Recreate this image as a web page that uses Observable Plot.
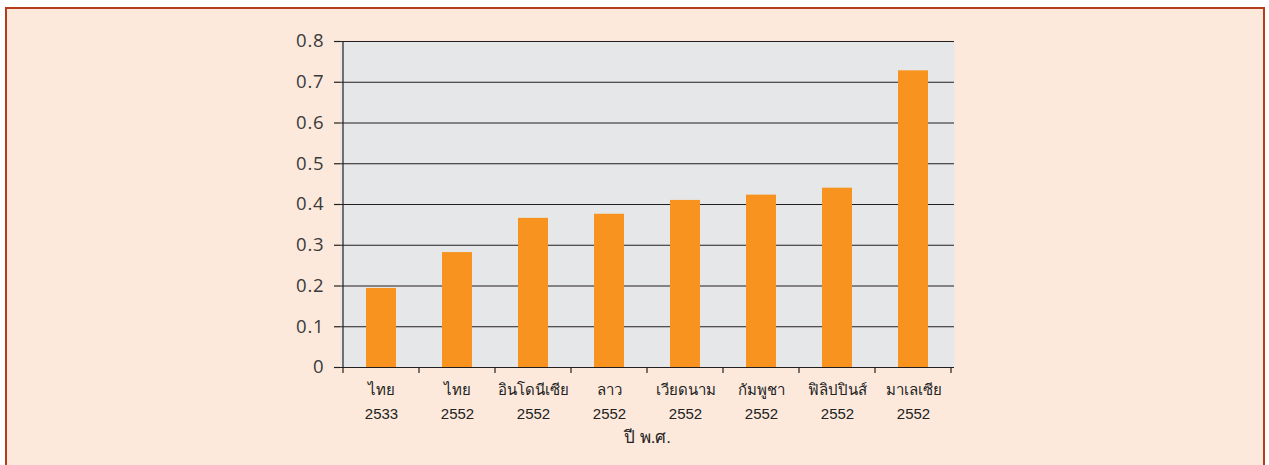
<!DOCTYPE html>
<html><head><meta charset="utf-8">
<script src="https://cdn.jsdelivr.net/npm/d3@7"></script>
<script src="https://cdn.jsdelivr.net/npm/@observablehq/plot@0.6"></script>
<style>
html,body{margin:0;padding:0;background:#fff;width:1269px;height:465px;overflow:hidden}
#frame{position:absolute;left:5px;top:7px;width:1260px;height:480px;border:2px solid #b63c1e;background:#fce9dc;box-sizing:border-box}
#chart{position:absolute;left:0;top:0}
#chart g[aria-label="y-axis tick label"] text{letter-spacing:0.8px}
</style></head><body><div id="frame"></div><div id="chart"></div>
<script>
const countries = ["ไทย","ไทย","อินโดนีเซีย","ลาว","เวียดนาม","กัมพูชา","ฟิลิปปินส์","มาเลเซีย"];
const years = ["2533","2552","2552","2552","2552","2552","2552","2552"];
const values = [0.194,0.282,0.366,0.376,0.41,0.423,0.44,0.728];
const yTicks = [0,0.1,0.2,0.3,0.4,0.5,0.6,0.7,0.8];
const xTitle = "ปี พ.ศ.";

const data = countries.map((c,i)=>({key:i, country:c, year:years[i], value:values[i]}));
const lineColor = "#231f20";

const edges = (index, {x, y}) => {
  const g = d3.create("svg:g").attr("stroke", lineColor).attr("stroke-width", 1.2);
  const bw = x.bandwidth();
  const dom = x.domain();
  const y0 = y(0);
  const xs = [...dom.map(d => x(d)), x(dom[dom.length-1]) + bw];
  g.selectAll("line.e").data(xs).join("line")
    .attr("x1", d => d).attr("x2", d => d).attr("y1", y0).attr("y2", y0 + 6);
  g.append("line").attr("x1", xs[0]).attr("x2", xs[0])
    .attr("y1", y(yTicks[yTicks.length-1])).attr("y2", y0);
  return g.node();
};

const chart = Plot.plot({
  width: 1269, height: 465,
  marginLeft: 340, marginRight: 315, marginTop: 41, marginBottom: 98,
  style: {background: "transparent", color: "#3a3a3a", fontFamily: "'Open Sans', 'Noto Sans', sans-serif"},
  x: {type: "band", domain: data.map(d => d.key), padding: 0, axis: null},
  y: {domain: [0, 0.8], axis: null},
  marks: [
    Plot.frame({fill: "#e6e7e8", stroke: null}),
    Plot.ruleY(yTicks, {stroke: lineColor, strokeWidth: 1.2}),
    Plot.barY(data, {x: "key", y: "value", fill: "#f7931e", insetLeft: 23, insetRight: 23}),
    Plot.axisY({ticks: yTicks, tickSize: 6, tickPadding: 10, fontSize: 18.5, stroke: lineColor, strokeWidth: 1.2,
      tickFormat: d => d === 0 ? "0" : d3.format(".1f")(d), label: null}),
    edges,
    Plot.text(data, {x: "key", y: () => 0, text: d => d.country + "\n" + d.year, lineAnchor: "top",
      dy: 10, lineHeight: 1.62, fontSize: 15, fill: "#222", fontFamily: "'Liberation Sans', sans-serif"}),
    Plot.text([xTitle], {frameAnchor: "bottom", lineAnchor: "middle", dy: 70, fontSize: 17, fill: "#222",
      fontFamily: "'Liberation Sans', sans-serif"})
  ]
});
document.getElementById("chart").appendChild(chart);
</script></body></html>
